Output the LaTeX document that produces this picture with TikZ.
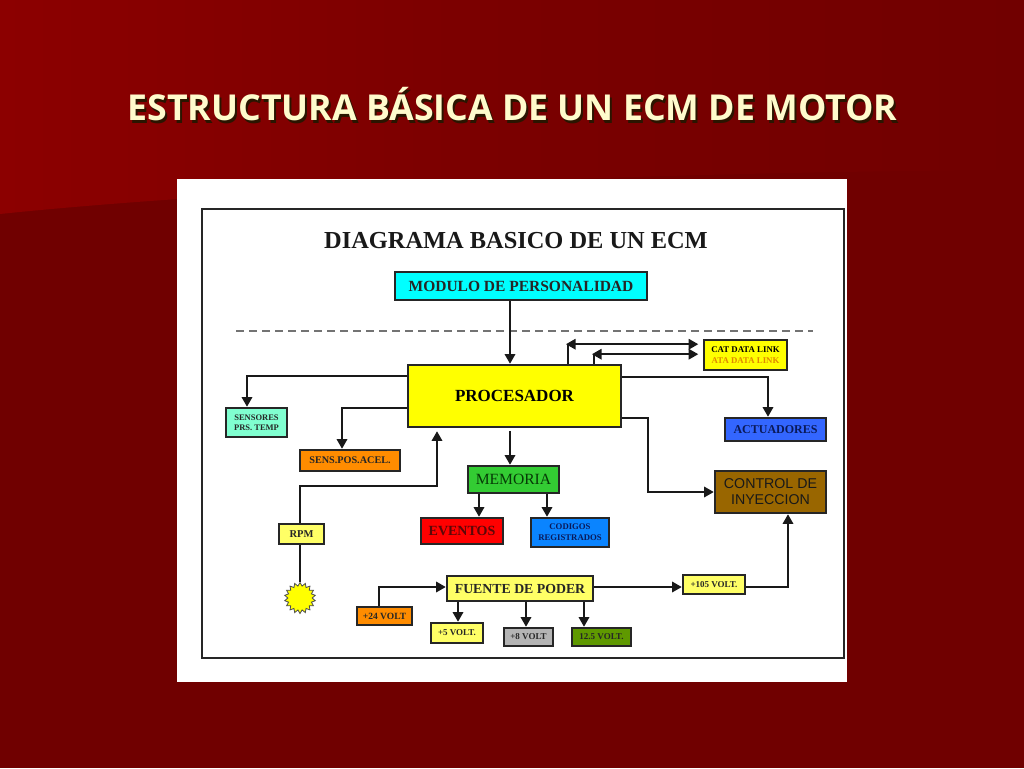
\documentclass[tikz,border=0pt]{standalone}
\usepackage{fontspec}
\setmainfont{Liberation Serif}
\newfontfamily\titlefont{Open Sans}
\newfontfamily\arialfont{Liberation Sans}
\usetikzlibrary{arrows.meta, calc, positioning, shapes.geometric}
\definecolor{slidedark}{HTML}{700000}
\definecolor{slidelight}{HTML}{8C0000}
\definecolor{slidemid}{HTML}{7A0000}
\definecolor{slideright}{HTML}{710000}
\definecolor{titleshadow}{HTML}{2A1500}
\definecolor{titlecream}{HTML}{FFFBCC}
\definecolor{paleyellow}{HTML}{FFFF66}
\definecolor{yellowbox}{HTML}{FFFF00}
\definecolor{cyanbox}{HTML}{00FFFF}
\definecolor{redbox}{HTML}{FF0000}
\definecolor{aquabox}{HTML}{80FFD0}
\definecolor{orangebox}{HTML}{FF8C00}
\definecolor{greenbox}{HTML}{33CC33}
\definecolor{skybox}{HTML}{0A84FF}
\definecolor{bluebox}{HTML}{3366FF}
\definecolor{brownbox}{HTML}{996600}
\definecolor{oilbox}{HTML}{5F9900}
\definecolor{greybox}{HTML}{B4B4B4}
\definecolor{ataorange}{HTML}{E08A00}
\definecolor{darkgreen}{HTML}{063A06}
\definecolor{darkred}{HTML}{5A0808}
\definecolor{darknavy}{HTML}{0A1A5A}
\newcommand{\shadowed}[1]{\makebox[0pt][l]{\kern2pt\raisebox{-2.5pt}{\textcolor{titleshadow}{#1}}}#1}
\tikzset{
    ecmbox/.style n args={3}{
        draw=black!85, line width=1.6pt, fill=#1, inner sep=0pt, align=center,
        minimum width=#2, minimum height=#3
    },
    ecmfont/.style={font=\fontsize{#1}{#1}\selectfont\bfseries},
    ecmline/.style={draw=black!90, line width=1.5pt},
    ecmarrow/.style={ecmline, -{Triangle[length=9.5pt,width=10.5pt]}, shorten >=0.5pt},
    ecmboth/.style={ecmline, {Triangle[length=9.5pt,width=10.5pt]}-{Triangle[length=9.5pt,width=10.5pt]}}
}
\begin{document}
\begin{tikzpicture}[x=1pt,y=-1pt]
    \useasboundingbox (0,0) rectangle (1024,768);
    % slide background
    \fill[slidedark] (0,0) rectangle (1024,768);
    \shade[left color=slidelight, right color=slideright, middle color=slidemid]
        (0,0) -- (1024,0) -- (1024,170) .. controls (600,172) and (200,193) .. (0,214) -- cycle;
    \node[text=titlecream, font=\titlefont\fontsize{35.7}{36}\selectfont\bfseries] (title) at (512.5,105.5) {\shadowed{ESTRUCTURA BÁSICA DE UN ECM DE MOTOR}};
    % white sheet and frame
    \fill[white] (177,179) rectangle (847,682);
    \node[draw=black!85, line width=2pt, minimum width=642pt, minimum height=449pt, inner sep=0pt] (frame) at (523,433.5) {};
    \node[ecmfont=24.4, text=black!90] (heading) at (516,241) {DIAGRAMA BASICO DE UN ECM};
    \coordinate (dashL) at (236,331);
    \coordinate (dashR) at (813,331);
    \draw[black!55, line width=1.4pt, dash pattern=on 8pt off 5pt] (dashL) -- (dashR);
    % boxes
    \node[ecmbox={cyanbox}{252pt}{28pt}, ecmfont=15.5, text=black!85] (modulo) at (521,286) {MODULO DE PERSONALIDAD};
    \node[ecmbox={yellowbox}{213pt}{62pt}, ecmfont=17] (procesador) at (514.5,396) {PROCESADOR};
    \node[ecmbox={yellowbox}{83pt}{30pt}, ecmfont=8.8] (catlink) at (745.5,355) {CAT DATA LINK\\[2pt]\textcolor{ataorange}{ATA DATA LINK}};
    \node[ecmbox={aquabox}{61pt}{29pt}, ecmfont=8.5, text=black!85] (sensores) at (256.5,422.5) {SENSORES\\[2pt]PRS. TEMP};
    \node[ecmbox={orangebox}{100pt}{21pt}, ecmfont=10.2, text=black!85] (senspos) at (350,460.5) {SENS.POS.ACEL.};
    \node[ecmbox={greenbox}{91pt}{27pt}, text=darkgreen, font=\fontsize{15.6}{15.6}\selectfont] (memoria) at (513.5,479.5) {MEMORIA};
    \node[ecmbox={redbox}{82pt}{26pt}, ecmfont=14, text=darkred] (eventos) at (462,531) {EVENTOS};
    \node[ecmbox={skybox}{78pt}{29pt}, ecmfont=8.7, text=darknavy] (codigos) at (570,532.5) {CODIGOS\\[2pt]REGISTRADOS};
    \node[ecmbox={bluebox}{101pt}{23pt}, ecmfont=12, text=darknavy] (actuadores) at (775.5,429.5) {ACTUADORES};
    \node[ecmbox={brownbox}{111pt}{42pt}, font=\arialfont\fontsize{14.2}{14.2}\selectfont, text=black!90] (control) at (770.5,492) {CONTROL DE\\[2pt]INYECCION};
    \node[ecmbox={paleyellow}{45pt}{20pt}, ecmfont=10.5, text=black!85] (rpm) at (301.5,534) {RPM};
    \node[star, star points=18, star point ratio=1.28, draw=black!70, line width=0.8pt, fill=yellowbox, inner sep=0pt, minimum size=31pt] (sunrpm) at (300,598) {};
    \node[ecmbox={paleyellow}{146pt}{25pt}, ecmfont=13.8, text=black!85] (fuente) at (520,588.5) {FUENTE DE PODER};
    \node[ecmbox={orangebox}{55pt}{18pt}, ecmfont=9.5, text=black!85] (v24) at (384.5,616) {+24 VOLT};
    \node[ecmbox={paleyellow}{52pt}{20pt}, ecmfont=9, text=black!85] (v5) at (457,633) {+5 VOLT.};
    \node[ecmbox={greybox}{49pt}{18pt}, ecmfont=9, text=black!85] (v8) at (528.5,637) {+8 VOLT};
    \node[ecmbox={oilbox}{59pt}{18pt}, ecmfont=9, text=black!85] (v125) at (601.5,637) {12.5 VOLT.};
    \node[ecmbox={paleyellow}{62pt}{19pt}, ecmfont=9, text=black!85] (v105) at (714,584.5) {+105 VOLT.};
    % connectors
    \coordinate (catup) at ([xshift=53.5pt,yshift=20pt]procesador.north);
    \coordinate (catlow) at ([xshift=79.5pt,yshift=10pt]procesador.north);
    \draw[ecmarrow] ([xshift=-11pt]modulo.south) -- ([xshift=-4.5pt]procesador.north);
    \draw[ecmline] ([xshift=53.5pt]procesador.north) -- (catup);
    \draw[ecmline] ([xshift=79.5pt]procesador.north) -- (catlow);
    \draw[ecmboth, shorten <=-2pt, shorten >=5pt] (catup) -- (catup -| catlink.west);
    \draw[ecmboth, shorten <=-2pt, shorten >=5pt] (catlow) -- (catlow -| catlink.west);
    \draw[ecmarrow] ([yshift=20pt]procesador.west) -| ([xshift=-9.5pt]sensores.north);
    \draw[ecmarrow] ([yshift=-12pt]procesador.west) -| ([xshift=-8pt]senspos.north);
    \draw[ecmarrow] ([xshift=-1.5pt]rpm.north) |- (437,486) -- ([xshift=-77.5pt,yshift=-3pt]procesador.south);
    \draw[ecmarrow] ([xshift=-4.5pt,yshift=-3pt]procesador.south) -- ([xshift=-3.5pt]memoria.north);
    \draw[ecmarrow] ([xshift=-34.5pt]memoria.south) -- ([xshift=17pt]eventos.north);
    \draw[ecmarrow] ([xshift=33.5pt]memoria.south) -- ([xshift=-23pt]codigos.north);
    \draw[ecmarrow] ([yshift=19pt]procesador.east) -| ([xshift=-7.5pt]actuadores.north);
    \draw[ecmarrow] ([yshift=-22pt]procesador.east) -- ++(26,0) |- (control.west);
    \draw[ecmline] ([xshift=-1.5pt]rpm.south) -- (sunrpm.north);
    \draw[ecmarrow] ([xshift=-5.5pt]v24.north) |- ([yshift=1.5pt]fuente.west);
    \draw[ecmarrow] ([xshift=-62pt]fuente.south) -- ([xshift=1pt]v5.north);
    \draw[ecmarrow] ([xshift=6pt]fuente.south) -- ([xshift=-2.5pt]v8.north);
    \draw[ecmarrow] ([xshift=64pt]fuente.south) -- ([xshift=-17.5pt]v125.north);
    \draw[ecmarrow] ([yshift=1.5pt]fuente.east) -- ([yshift=-2.5pt]v105.west);
    \draw[ecmarrow] ([yshift=-2.5pt]v105.east) -| ([xshift=17.5pt]control.south);
\end{tikzpicture}
\end{document}
